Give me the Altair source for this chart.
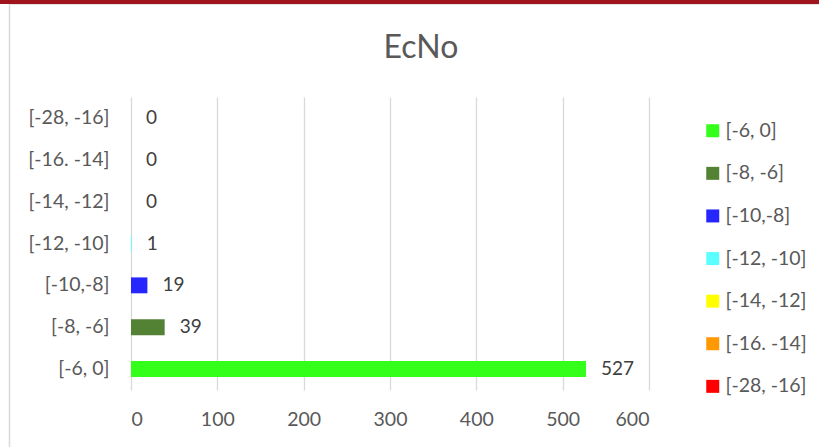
import altair as alt
import pandas as pd

# EcNo bins, bar counts and series colours
chart_title = "EcNo"
ranges = ["[-6, 0]", "[-8, -6]", "[-10,-8]", "[-12, -10]", "[-14, -12]", "[-16. -14]", "[-28, -16]"]
counts = [527, 39, 19, 1, 0, 0, 0]
colors = ["#33FF1A", "#548235", "#2626FF", "#5CFFFF", "#FFFF00", "#FF9900", "#FF0000"]
x_ticks = [0, 100, 200, 300, 400, 500, 600]

FONT = "Lato"
LABEL_GRAY = "#595959"

df = pd.DataFrame({"range": ranges, "count": counts})
y_order = list(reversed(ranges))

y_enc = alt.Y(
    "range:N",
    sort=y_order,
    scale=alt.Scale(paddingInner=0.62, paddingOuter=0.31),
    axis=alt.Axis(
        title=None, domain=False, ticks=False, grid=False,
        labelPadding=22, labelFontSize=19.5, labelColor=LABEL_GRAY, labelFont=FONT,
    ),
)
x_enc = alt.X(
    "count:Q",
    scale=alt.Scale(domain=[0, 600], nice=False),
    axis=alt.Axis(
        values=x_ticks, title=None, domain=False, ticks=False,
        grid=True, gridColor="#D9D9D9", gridWidth=1.3,
        labelPadding=20, labelFontSize=19.5, labelColor=LABEL_GRAY, labelFont=FONT,
    ),
)

base = alt.Chart(df)

bars = base.mark_bar().encode(
    x=x_enc,
    y=y_enc,
    color=alt.Color(
        "range:N",
        scale=alt.Scale(domain=ranges, range=colors),
        legend=alt.Legend(
            title=None, orient="none", legendX=572, legendY=24,
            symbolType="square", symbolSize=169, symbolStrokeWidth=0,
            labelFontSize=19.5, labelFont=FONT, labelColor=LABEL_GRAY,
            labelOffset=3, rowPadding=21.6,
        ),
    ),
)

value_labels = base.mark_text(
    align="left", baseline="middle", dx=15, fontSize=19, font=FONT, color="#404040"
).encode(x=x_enc, y=y_enc, text="count:Q")

# chart title, drawn above the plot area
title_df = pd.DataFrame({"t": [chart_title]})
title_mark = alt.Chart(title_df).mark_text(
    align="center", baseline="alphabetic", fontSize=32, font=FONT, color=LABEL_GRAY
).encode(x=alt.value(290), y=alt.value(-39), text="t:N")

# chart frame: dark red strip on top, thin gray border on the left
frame_df = pd.DataFrame({"k": [0]})
top_strip = alt.Chart(frame_df).mark_rule(color="#A0141E", strokeWidth=4).encode(
    x=alt.value(-131), x2=alt.value(688), y=alt.value(-95)
)
top_line = alt.Chart(frame_df).mark_rule(color="#E3E3E3", strokeWidth=1).encode(
    x=alt.value(-121), x2=alt.value(688), y=alt.value(-92.5)
)
left_line = alt.Chart(frame_df).mark_rule(color="#D9D9D9", strokeWidth=1.5).encode(
    x=alt.value(-121.5), y=alt.value(-93), y2=alt.value(350)
)

chart = (
    alt.layer(top_line, left_line, top_strip, title_mark, bars, value_labels)
    .properties(
        width=518,
        height=293,
        autosize=alt.AutoSizeParams(type="none"),
        padding={"left": 131, "top": 97, "right": 170, "bottom": 57},
        background="white",
    )
    .configure_view(stroke=None)
)

chart.save("out.html", embed_options={"renderer": "svg", "actions": False})
